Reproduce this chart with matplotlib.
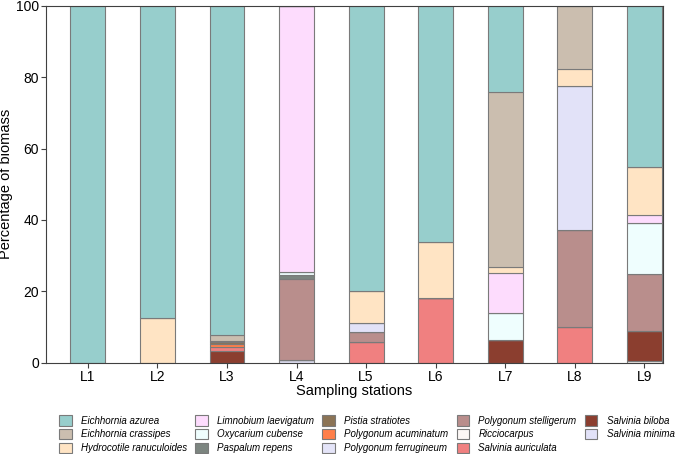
"""
Stacked biomass composition of macrophytes across sampling stations.
"""

import matplotlib
matplotlib.use('Agg')
import matplotlib.pyplot as plt
import numpy as np

plt.rcParams['font.family'] = ['Liberation Sans', 'DejaVu Sans']

stations = ['L1', 'L2', 'L3', 'L4', 'L5', 'L6', 'L7', 'L8', 'L9']

# percentage of biomass per station (L1..L9)
eichhornia_azurea = [100, 87.5, 92.2, 0, 80.0, 66.1, 24.1, 0, 45.3]
eichhornia_crassipes = [0, 0, 1.7, 0, 0, 0, 49.0, 17.8, 0]
hydrocotile = [0, 12.5, 0, 0, 8.8, 15.9, 1.7, 4.7, 13.4]
limnobium = [0, 0, 0, 74.5, 0, 0, 11.4, 0, 2.1]
oxycarium = [0, 0, 0, 0.9, 0, 0, 7.3, 0, 14.4]
paspalum = [0, 0, 0.4, 1.2, 0, 0, 0, 0, 0]
pistia = [0, 0, 0.5, 0, 0, 0, 0, 0, 0]
pol_acuminatum = [0, 0, 0.7, 0, 0, 0, 0, 0, 0]
pol_ferrugineum = [0, 0, 0, 0.8, 0, 0, 0, 0, 0]
pol_stelligerum = [0, 0, 0, 22.6, 2.6, 0, 0, 27.2, 15.8]
ricciocarpus = [0, 0, 0, 0, 0, 0, 0, 0, 0.6]
sal_auriculata = [0, 0, 1.2, 0, 5.9, 18.0, 0, 9.9, 0]
sal_biloba = [0, 0, 3.3, 0, 0, 0, 6.5, 0, 8.4]
sal_minima = [0, 0, 0, 0, 2.7, 0, 0, 40.4, 0]

# name, values, colour (legend order is alphabetical)
species = [
    ('Eichhornia azurea', eichhornia_azurea, '#97cecc'),
    ('Eichhornia crassipes', eichhornia_crassipes, '#cbbeaf'),
    ('Hydrocotile ranuculoides', hydrocotile, '#ffe4c4'),
    ('Limnobium laevigatum', limnobium, '#fddcfd'),
    ('Oxycarium cubense', oxycarium, '#effefe'),
    ('Paspalum repens', paspalum, '#7c8580'),
    ('Pistia stratiotes', pistia, '#8b7355'),
    ('Polygonum acuminatum', pol_acuminatum, '#ff7f4a'),
    ('Polygonum ferrugineum', pol_ferrugineum, '#e4e4f8'),
    ('Polygonum stelligerum', pol_stelligerum, '#b98e8c'),
    ('Ricciocarpus', ricciocarpus, '#fdf8f6'),
    ('Salvinia auriculata', sal_auriculata, '#f08080'),
    ('Salvinia biloba', sal_biloba, '#8b3e2f'),
    ('Salvinia minima', sal_minima, '#e2e2f8'),
]

# stacking order from bottom to top
stack_order = ['Ricciocarpus', 'Polygonum ferrugineum', 'Salvinia biloba',
               'Salvinia auriculata', 'Polygonum acuminatum', 'Pistia stratiotes',
               'Polygonum stelligerum', 'Paspalum repens', 'Oxycarium cubense',
               'Salvinia minima', 'Limnobium laevigatum', 'Hydrocotile ranuculoides',
               'Eichhornia crassipes', 'Eichhornia azurea']

fig = plt.figure(figsize=(6.85, 4.54), dpi=100)
ax = fig.add_axes([0.0672, 0.201, 0.901, 0.7864])

lookup = {name: (vals, col) for name, vals, col in species}
x = np.arange(len(stations))
bottom = np.zeros(len(stations))
handles = {}
for name in stack_order:
    vals, col = lookup[name]
    vals = np.array(vals, dtype=float)
    bars = ax.bar(x, vals, width=0.5, bottom=bottom, color=col,
                  edgecolor='#7a7a7a', linewidth=0.8, label=name)
    handles[name] = bars
    bottom += vals

ax.set_xlim(-0.6, 8.27)
ax.set_ylim(0, 100)
ax.set_yticks(np.arange(0, 101, 20))
ax.set_xticks(x)
ax.set_xticklabels(stations)
ax.tick_params(axis='both', labelsize=10, direction='out', length=3.5,
               width=0.8, color='#404040', pad=1.5)
for side in ax.spines.values():
    side.set_color('#404040')
    side.set_linewidth(0.8)

ax.set_xlabel('Sampling stations', fontsize=10.5, labelpad=0)
ax.set_ylabel('Percentage of biomass', fontsize=10.5, labelpad=2)

leg_handles = [handles[name] for name, _, _ in species]
leg_labels = [name for name, _, _ in species]
fig.legend(leg_handles, leg_labels, ncol=5, loc='upper left',
           bbox_to_anchor=(0.086, 0.085), frameon=False, borderpad=0,
           borderaxespad=0, prop={'style': 'italic', 'size': 7},
           handlelength=1.3, handleheight=1.25, handletextpad=0.95,
           columnspacing=0.85, labelspacing=0.33)

plt.savefig('out.png', dpi=100)
plt.close()
